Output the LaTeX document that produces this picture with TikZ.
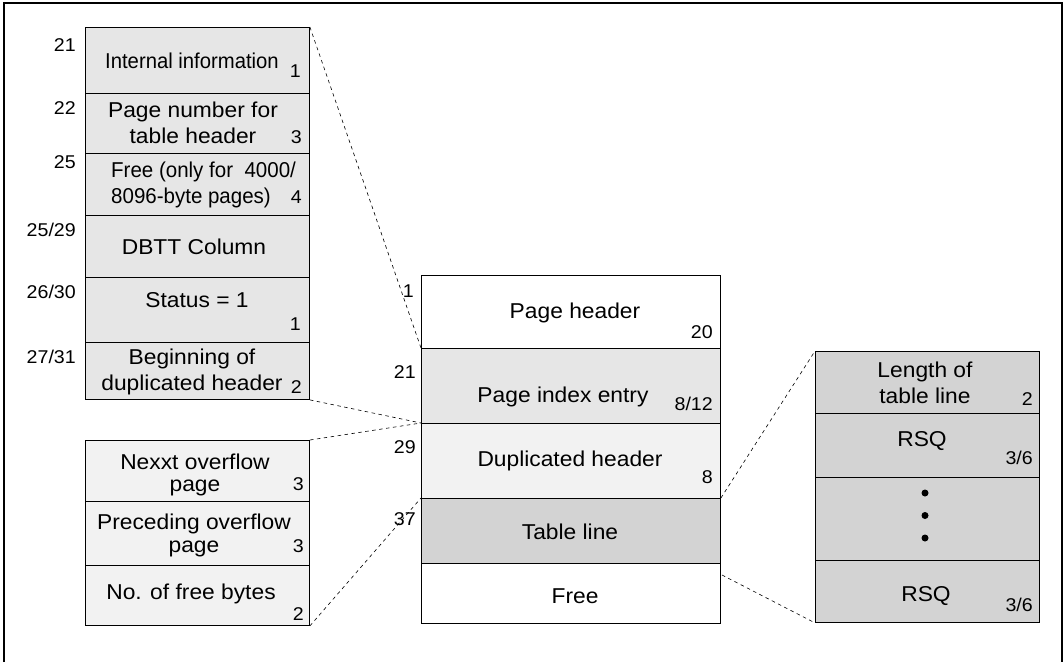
\documentclass[tikz,border=0pt]{standalone}
\usepackage{fontspec}
\setmainfont[FakeStretch=1.06]{Liberation Sans}
\definecolor{gA}{HTML}{E6E6E6}
\definecolor{gB}{HTML}{F2F2F2}
\definecolor{gC}{HTML}{D3D3D3}
\begin{document}
\begin{tikzpicture}[x=1pt,y=-1pt,
  cell/.style={draw, line width=0.9pt, anchor=north west, inner sep=0pt},
  txt/.style={font=\fontsize{21.5}{26}\selectfont, inner sep=0pt, align=center},
  num/.style={font=\fontsize{18.5}{21}\selectfont, inner sep=0pt, anchor=east},
  conn/.style={dash pattern=on 3.5pt off 3.5pt, line width=0.6pt},
  dot/.style={circle, fill=black, inner sep=0pt, minimum size=7pt}]
\useasboundingbox (0,0) rectangle (1063,662);
\draw[line width=1.5pt] (4,662) -- (4,3) -- (1062,3) -- (1062,662);

% left column
\node[cell, fill=gA, minimum width=224pt, minimum height=66pt] (l1) at (85,27) {};
\node[cell, fill=gA, minimum width=224pt, minimum height=60pt] (l2) at (85,93) {};
\node[cell, fill=gA, minimum width=224pt, minimum height=62pt] (l3) at (85,153) {};
\node[cell, fill=gA, minimum width=224pt, minimum height=62pt] (l4) at (85,215) {};
\node[cell, fill=gA, minimum width=224pt, minimum height=65pt] (l5) at (85,277) {};
\node[cell, fill=gA, minimum width=224pt, minimum height=57pt] (l6) at (85,342) {};
\node[txt] (tl1) at (192,61) {\scalebox{0.89}[1]{Internal information}};
\node[txt] (tl2) at (193,123) {Page number for\\table header};
\node[txt, anchor=west, align=left] (tl3) at (111,185) {\scalebox{0.9}[1]{Free (only for~~4000/}\\\scalebox{0.9}[1]{8096-byte pages)}};
\node[txt] (tl4) at (194,247) {DBTT Column};
\node[txt] (tl5) at (197,300) {Status = 1};
\node[txt] (tl6) at (192,372) {Beginning of\\duplicated header};
\node[num] (sl1) at (301,71) {1};
\node[num] (sl2) at (302,137) {3};
\node[num] (sl3) at (302,197) {4};
\node[num] (sl5) at (301,324) {1};
\node[num] (sl6) at (302,387) {2};
\node[num] (ol1) at (76,45) {21};
\node[num] (ol2) at (76,108) {22};
\node[num] (ol3) at (76,162) {25};
\node[num] (ol4) at (76,230) {25/29};
\node[num] (ol5) at (76,291.5) {26/30};
\node[num] (ol6) at (76,356.5) {27/31};

% bottom-left box
\node[cell, fill=gB, minimum width=224pt, minimum height=61pt] (b1) at (85,440) {};
\node[cell, fill=gB, minimum width=224pt, minimum height=64pt] (b2) at (85,501) {};
\node[cell, fill=gB, minimum width=224pt, minimum height=60pt] (b3) at (85,565) {};
\node[txt] (tb1) at (195,475) {Nexxt overflow\\[-4pt]page};
\node[txt] (tb2) at (194,535) {Preceding overflow\\[-3pt]page};
\node[txt] (tb3) at (191,594) {No. of free bytes};
\node[num] (sb1) at (304,484) {3};
\node[num] (sb2) at (304,546) {3};
\node[num] (sb3) at (304,614) {2};

% middle box
\node[cell, fill=white, minimum width=299pt, minimum height=73pt] (m1) at (421,275) {};
\node[cell, fill=gA, minimum width=299pt, minimum height=75pt] (m2) at (421,348) {};
\node[cell, fill=gB, minimum width=299pt, minimum height=75pt] (m3) at (421,423) {};
\node[cell, fill=gC, minimum width=299pt, minimum height=65pt] (m4) at (421,498) {};
\node[cell, fill=white, minimum width=299pt, minimum height=60pt] (m5) at (421,563) {};
\node[txt] (tm1) at (575,312.5) {Page header};
\node[txt] (tm2) at (563,397) {Page index entry};
\node[txt] (tm3) at (570,461) {Duplicated header};
\node[txt] (tm4) at (570,531.5) {Table line};
\node[txt] (tm5) at (575,596.5) {Free};
\node[num] (sm1) at (713,332) {20};
\node[num] (sm2) at (713,403.5) {8/12};
\node[num] (sm3) at (713,477) {8};
\node[num] (om1) at (414,291) {1};
\node[num] (om2) at (416,372) {21};
\node[num] (om3) at (416,447.5) {29};
\node[num] (om4) at (416,519.5) {37};

% right box
\node[cell, fill=gC, minimum width=224pt, minimum height=62pt] (r1) at (815,351) {};
\node[cell, fill=gC, minimum width=224pt, minimum height=64pt] (r2) at (815,413) {};
\node[cell, fill=gC, minimum width=224pt, minimum height=83pt] (r3) at (815,477) {};
\node[cell, fill=gC, minimum width=224pt, minimum height=62pt] (r4) at (815,560) {};
\node[txt] (tr1) at (925,382.5) {Length of\\table line};
\node[txt] (tr2) at (922,441.5) {RSQ};
\node[txt] (tr4) at (926,596.5) {RSQ};
\node[num] (sr1) at (1033,399) {2};
\node[num] (sr2) at (1033,457.5) {3/6};
\node[num] (sr4) at (1033,605) {3/6};
\node[dot] (d1) at (925,493) {};
\node[dot] (d2) at (925,515.5) {};
\node[dot] (d3) at (925,538) {};

% connectors
\coordinate (fe) at (722,575);
\draw[conn] (l1.north east) -- (m2.north west);
\draw[conn] (l6.south east) -- (m3.north west);
\draw[conn] (b1.north east) -- (m3.north west);
\draw[conn] (b3.south east) -- (m4.north west);
\draw[conn] (m4.north east) -- (r1.north west);
\draw[conn] (fe) -- (r4.south west);
\end{tikzpicture}
\end{document}
